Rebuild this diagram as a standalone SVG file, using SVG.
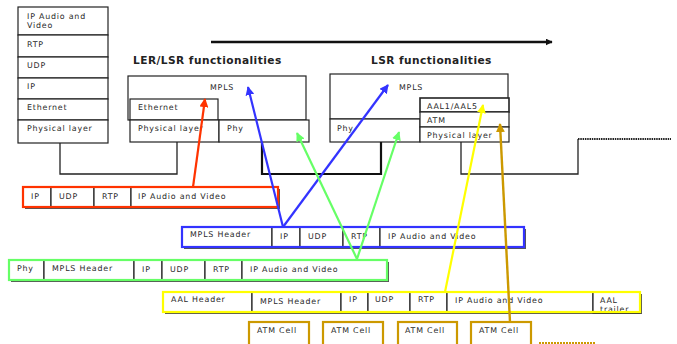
<svg xmlns="http://www.w3.org/2000/svg" width="677" height="344" viewBox="0 0 677 344">
  <style>
    .box { fill: #fff; stroke: #222; stroke-width: 1.2; }
    .wire { fill: none; stroke: #222; stroke-width: 1.3; }
    .thick { fill: none; stroke: #111; stroke-width: 2.2; }
    .t { font-family: "DejaVu Sans", Verdana, sans-serif; font-size: 7.9px; fill: #2a2a2a; letter-spacing: 0.8px; }
    .title { font-family: "DejaVu Sans", Verdana, sans-serif; font-size: 10.6px; font-weight: bold; fill: #222; letter-spacing: 0.45px; }
    .shadow { fill: #555; }
    .red { fill: none; stroke: #ff3300; stroke-width: 2.2; }
    .blue { fill: none; stroke: #3333ff; stroke-width: 2.2; }
    .green { fill: none; stroke: #66ff66; stroke-width: 2.2; }
    .yellow { fill: none; stroke: #ffff00; stroke-width: 2.2; }
    .gold { fill: none; stroke: #cc9900; stroke-width: 2.4; }
  </style>
  <defs>
    <marker id="ah-red" viewBox="0 0 10 10" refX="9" refY="5" markerWidth="9" markerHeight="9" markerUnits="userSpaceOnUse" orient="auto"><path d="M0,0 L10,5 L0,10 z" fill="#ff3300"/></marker>
    <marker id="ah-blue" viewBox="0 0 10 10" refX="9" refY="5" markerWidth="9" markerHeight="9" markerUnits="userSpaceOnUse" orient="auto"><path d="M0,0 L10,5 L0,10 z" fill="#3333ff"/></marker>
    <marker id="ah-green" viewBox="0 0 10 10" refX="9" refY="5" markerWidth="9" markerHeight="9" markerUnits="userSpaceOnUse" orient="auto"><path d="M0,0 L10,5 L0,10 z" fill="#66ff66"/></marker>
    <marker id="ah-yellow" viewBox="0 0 10 10" refX="9" refY="5" markerWidth="9" markerHeight="9" markerUnits="userSpaceOnUse" orient="auto"><path d="M0,0 L10,5 L0,10 z" fill="#ffff00"/></marker>
    <marker id="ah-gold" viewBox="0 0 10 10" refX="9" refY="5" markerWidth="9" markerHeight="9" markerUnits="userSpaceOnUse" orient="auto"><path d="M0,0 L10,5 L0,10 z" fill="#cc9900"/></marker>
    <marker id="ah-black" viewBox="0 0 10 10" refX="9" refY="5" markerWidth="7" markerHeight="7" markerUnits="userSpaceOnUse" orient="auto"><path d="M0,0 L10,5 L0,10 z" fill="#111"/></marker>
    <clipPath id="trailer-clip"><rect x="593" y="292" width="47" height="21"/></clipPath>
  </defs>

  <rect width="677" height="344" fill="#fff"/>

  <!-- host protocol stack -->
  <g id="host-stack">
    <rect class="box" x="18" y="7" width="90" height="28"/>
    <rect class="box" x="18" y="35" width="90" height="22"/>
    <rect class="box" x="18" y="57" width="90" height="21"/>
    <rect class="box" x="18" y="78" width="90" height="21"/>
    <rect class="box" x="18" y="99" width="90" height="21"/>
    <rect class="box" x="18" y="120" width="90" height="23"/>
    <text class="t" x="27" y="19">IP Audio and</text>
    <text class="t" x="27" y="28">Video</text>
    <text class="t" x="27" y="47">RTP</text>
    <text class="t" x="27" y="68">UDP</text>
    <text class="t" x="27" y="89">IP</text>
    <text class="t" x="27" y="110">Ethernet</text>
    <text class="t" x="27" y="131">Physical layer</text>
  </g>

  <!-- LER/LSR node -->
  <g id="ler-node">
    <text class="title" x="133" y="64">LER/LSR functionalities</text>
    <rect class="box" x="128" y="76" width="178" height="44"/>
    <text class="t" x="210" y="90">MPLS</text>
    <rect class="box" x="130" y="99" width="88" height="21"/>
    <text class="t" x="138" y="110">Ethernet</text>
    <rect class="box" x="130" y="120" width="89" height="22"/>
    <text class="t" x="138" y="131">Physical layer</text>
    <rect class="box" x="219" y="120" width="90" height="22"/>
    <text class="t" x="227" y="131">Phy</text>
  </g>

  <!-- LSR node -->
  <g id="lsr-node">
    <text class="title" x="371" y="64">LSR functionalities</text>
    <rect class="box" x="330" y="74" width="178" height="45"/>
    <text class="t" x="399" y="90">MPLS</text>
    <rect class="box" x="330" y="119" width="90" height="23"/>
    <text class="t" x="337" y="131">Phy</text>
    <rect class="box" x="420" y="98" width="89" height="14" style="stroke-width:1.6"/>
    <text class="t" x="427" y="109">AAL1/AAL5</text>
    <rect class="box" x="420" y="112" width="89" height="15"/>
    <text class="t" x="427" y="123">ATM</text>
    <rect class="box" x="420" y="127" width="89" height="15"/>
    <text class="t" x="427" y="138">Physical layer</text>
  </g>

  <!-- physical links between nodes -->
  <g id="links">
    <path class="wire" d="M60,143 V174 H177 V142"/>
    <path class="thick" d="M262,142 V174 H381 V142"/>
    <path class="wire" d="M461,142 V174 H578 V139"/>
    <line x1="578" y1="139" x2="671" y2="139" stroke="#222" stroke-width="1.8" stroke-dasharray="1.5 0.8"/>
    <line x1="211" y1="42" x2="552" y2="42" stroke="#111" stroke-width="2.6" marker-end="url(#ah-black)"/>
  </g>

  <!-- Ethernet frame -->
  <g id="frame-ethernet">
    <rect class="shadow" x="25" y="189" width="255" height="20"/>
    <rect class="box" x="23" y="187" width="28" height="20"/>
    <rect class="box" x="51" y="187" width="43" height="20"/>
    <rect class="box" x="94" y="187" width="37" height="20"/>
    <rect class="box" x="131" y="187" width="147" height="20"/>
    <text class="t" x="31" y="199">IP</text>
    <text class="t" x="59" y="199">UDP</text>
    <text class="t" x="102" y="199">RTP</text>
    <text class="t" x="138" y="199">IP Audio and Video</text>
    <rect class="red" x="23" y="187" width="255" height="20"/>
  </g>

  <!-- MPLS packet -->
  <g id="frame-mpls">
    <rect class="shadow" x="184" y="229" width="342" height="20"/>
    <rect class="box" x="182" y="227" width="90" height="20"/>
    <rect class="box" x="272" y="227" width="28" height="20"/>
    <rect class="box" x="300" y="227" width="43" height="20"/>
    <rect class="box" x="343" y="227" width="37" height="20"/>
    <rect class="box" x="380" y="227" width="144" height="20"/>
    <text class="t" x="190" y="237">MPLS Header</text>
    <text class="t" x="280" y="239">IP</text>
    <text class="t" x="308" y="239">UDP</text>
    <text class="t" x="351" y="239">RTP</text>
    <text class="t" x="388" y="239">IP Audio and Video</text>
    <rect class="blue" x="182" y="227" width="342" height="20"/>
  </g>

  <!-- MPLS over Phy frame -->
  <g id="frame-phy">
    <rect class="shadow" x="11" y="262" width="378" height="20"/>
    <rect class="box" x="9" y="260" width="35" height="20"/>
    <rect class="box" x="44" y="260" width="90" height="20"/>
    <rect class="box" x="134" y="260" width="28" height="20"/>
    <rect class="box" x="162" y="260" width="43" height="20"/>
    <rect class="box" x="205" y="260" width="37" height="20"/>
    <rect class="box" x="242" y="260" width="145" height="20"/>
    <text class="t" x="17" y="271">Phy</text>
    <text class="t" x="52" y="271">MPLS Header</text>
    <text class="t" x="142" y="272">IP</text>
    <text class="t" x="170" y="272">UDP</text>
    <text class="t" x="213" y="272">RTP</text>
    <text class="t" x="250" y="272">IP Audio and Video</text>
    <rect class="green" x="9" y="260" width="378" height="20"/>
  </g>

  <!-- AAL frame -->
  <g id="frame-aal">
    <rect class="shadow" x="165" y="294" width="477" height="20"/>
    <rect class="box" x="163" y="292" width="89" height="20"/>
    <rect class="box" x="252" y="292" width="89" height="20"/>
    <rect class="box" x="341" y="292" width="27" height="20"/>
    <rect class="box" x="368" y="292" width="42" height="20"/>
    <rect class="box" x="410" y="292" width="37" height="20"/>
    <rect class="box" x="447" y="292" width="146" height="20"/>
    <rect class="box" x="593" y="292" width="47" height="21"/>
    <text class="t" x="171" y="302">AAL Header</text>
    <text class="t" x="260" y="304">MPLS Header</text>
    <text class="t" x="349" y="302">IP</text>
    <text class="t" x="375" y="302">UDP</text>
    <text class="t" x="418" y="302">RTP</text>
    <text class="t" x="455" y="303">IP Audio and Video</text>
    <g clip-path="url(#trailer-clip)">
      <text class="t" x="600" y="303">AAL</text>
      <text class="t" x="600" y="312">trailer</text>
    </g>
    <rect class="yellow" x="163" y="292" width="477" height="20"/>
  </g>

  <!-- ATM cells -->
  <g id="atm-cells">
    <rect x="249" y="322" width="60" height="26" fill="#fff" stroke="#cc9900" stroke-width="2.2"/>
    <rect x="323" y="322" width="60" height="26" fill="#fff" stroke="#cc9900" stroke-width="2.2"/>
    <rect x="398" y="322" width="59" height="26" fill="#fff" stroke="#cc9900" stroke-width="2.2"/>
    <rect x="471" y="322" width="60" height="26" fill="#fff" stroke="#cc9900" stroke-width="2.2"/>
    <text class="t" x="257" y="333">ATM Cell</text>
    <text class="t" x="331" y="333">ATM Cell</text>
    <text class="t" x="405" y="333">ATM Cell</text>
    <text class="t" x="479" y="333">ATM Cell</text>
    <line x1="539" y1="343" x2="595" y2="343" stroke="#cc9900" stroke-width="1.8" stroke-dasharray="2 1"/>
  </g>

  <!-- encapsulation arrows -->
  <g id="connectors">
    <line class="red" x1="193" y1="187" x2="205" y2="99" marker-end="url(#ah-red)"/>
    <line class="blue" x1="283" y1="227" x2="248" y2="87" marker-end="url(#ah-blue)"/>
    <line class="blue" x1="283" y1="227" x2="388" y2="85" marker-end="url(#ah-blue)"/>
    <line class="green" x1="357" y1="259" x2="297" y2="133" marker-end="url(#ah-green)"/>
    <line class="green" x1="357" y1="259" x2="399" y2="132" marker-end="url(#ah-green)"/>
    <line class="yellow" x1="445" y1="292" x2="483" y2="105" marker-end="url(#ah-yellow)"/>
    <line class="gold" x1="510" y1="322" x2="500" y2="124" marker-end="url(#ah-gold)"/>
  </g>
</svg>
